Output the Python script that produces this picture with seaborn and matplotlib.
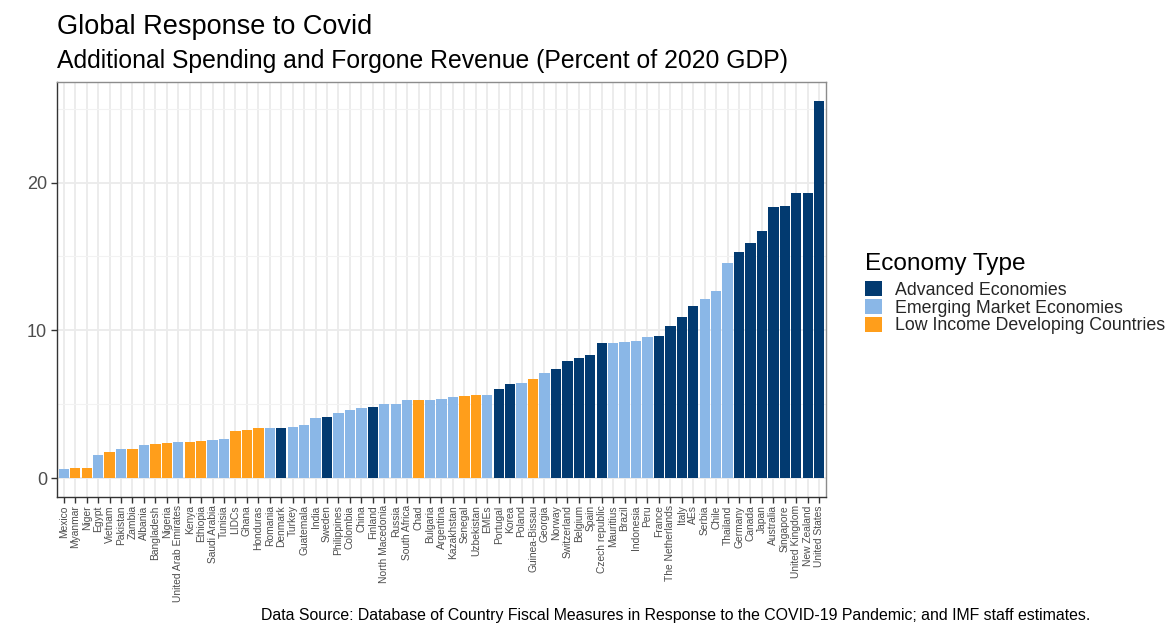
import matplotlib
matplotlib.use("Agg")
import matplotlib.pyplot as plt
import pandas as pd
import seaborn as sns
from matplotlib.patches import Patch
from matplotlib.ticker import MultipleLocator

# ==========================================================
# Data
# ==========================================================

countries = [
    "Mexico", "Myanmar", "Niger", "Egypt", "Vietnam", "Pakistan", "Zambia",
    "Albania", "Bangladesh", "Nigeria", "United Arab Emirates", "Kenya",
    "Ethiopia", "Saudi Arabia", "Tunisia", "LIDCs", "Ghana", "Honduras",
    "Romania", "Denmark", "Turkey", "Guatemala", "India", "Sweden",
    "Philippines", "Colombia", "China", "Finland", "North Macedonia", "Russia",
    "South Africa", "Chad", "Bulgaria", "Argentina", "Kazakhstan", "Senegal",
    "Uzbekistan", "EMEs", "Portugal", "Korea", "Poland", "Guinea-Bissau",
    "Georgia", "Norway", "Switzerland", "Belgium", "Spain", "Czech republic",
    "Mauritius", "Brazil", "Indonesia", "Peru", "France", "The Netherlands",
    "Italy", "AEs", "Serbia", "Chile", "Thailand", "Germany", "Canada",
    "Japan", "Australia", "Singapore", "United Kingdom", "New Zealand",
    "United States",
]

spending = [
    0.65, 0.72, 0.72, 1.54, 1.77, 1.99, 1.99,
    2.24, 2.28, 2.37, 2.42, 2.44,
    2.50, 2.57, 2.68, 3.17, 3.24, 3.38,
    3.38, 3.38, 3.47, 3.57, 4.07, 4.14,
    4.43, 4.63, 4.77, 4.79, 4.99, 4.99,
    5.28, 5.28, 5.30, 5.35, 5.48, 5.57,
    5.64, 5.66, 6.04, 6.38, 6.44, 6.69,
    7.12, 7.38, 7.90, 8.16, 8.36, 9.17,
    9.15, 9.20, 9.30, 9.57, 9.62, 10.29,
    10.90, 11.66, 12.13, 12.66, 14.56, 15.30, 15.90,
    16.70, 18.35, 18.40, 19.30, 19.30,
    25.50,
]

AE, EM, LI = "Advanced Economies", "Emerging Market Economies", "Low Income Developing Countries"
economy_type = [
    EM, LI, LI, EM, LI, EM, LI,
    EM, LI, LI, EM, LI,
    LI, EM, EM, LI, LI, LI,
    EM, AE, EM, EM, EM, AE,
    EM, EM, EM, AE, EM, EM,
    EM, LI, EM, EM, EM, LI,
    LI, EM, AE, AE, EM, LI,
    EM, AE, AE, AE, AE, AE,
    EM, EM, EM, EM, AE, AE,
    AE, AE, EM, EM, EM, AE, AE,
    AE, AE, AE, AE, AE,
    AE,
]

type_order = [AE, EM, LI]
palette = {AE: "#023A70", EM: "#8AB7E7", LI: "#FF9E1B"}

df = pd.DataFrame({"Country": countries, "Spending": spending, "Type": economy_type})

# ==========================================================
# Plot
# ==========================================================

sns.set_theme(style="white")
plt.rcParams["font.family"] = ["Liberation Sans", "DejaVu Sans"]

fig = plt.figure(figsize=(11.72, 6.23), dpi=100)
ax = fig.add_axes([0.0486, 0.2022, 0.6562, 0.6662])

sns.barplot(
    data=df, x="Country", y="Spending", hue="Type",
    order=countries, hue_order=type_order, palette=palette,
    dodge=False, width=0.9, saturation=1, linewidth=0,
    legend=False, ax=ax,
)

# ggplot-like grid
ax.set_axisbelow(True)
ax.yaxis.set_major_locator(MultipleLocator(10))
ax.yaxis.set_minor_locator(MultipleLocator(5))
ax.grid(which="major", axis="both", color="#EBEBEB", linewidth=1.3)
ax.grid(which="minor", axis="y", color="#F2F2F2", linewidth=0.8)

ax.set_xlim(-0.6, len(countries) - 0.4)
ax.set_ylim(-1.275, 26.8)

for side in ["top", "right"]:
    ax.spines[side].set_color("#8C8C8C")
    ax.spines[side].set_linewidth(1.0)
for side in ["left", "bottom"]:
    ax.spines[side].set_color("#333333")
    ax.spines[side].set_linewidth(1.0)

ax.tick_params(axis="x", which="major", length=4, width=1, color="#333333",
               labelsize=7.4, labelcolor="#4D4D4D", pad=2, bottom=True)
ax.tick_params(axis="y", which="major", length=4, width=1, color="#333333",
               labelsize=13, labelcolor="#4D4D4D", pad=3, left=True)
ax.tick_params(axis="y", which="minor", length=0)
ax.set_xticks(range(len(countries)))
ax.set_xticklabels(countries, rotation=90)
ax.set_xlabel("")
ax.set_ylabel("")

# titles
fig.text(0.0486, 0.945, "Global Response to Covid", fontsize=19.5, color="black", va="baseline")
fig.text(0.0486, 0.891, "Additional Spending and Forgone Revenue (Percent of 2020 GDP)",
         fontsize=17.8, color="black", va="baseline")

# caption
fig.text(0.930, 0.0, "Data Source: Database of Country Fiscal Measures in Response to the "
         "COVID-19 Pandemic; and IMF staff estimates.",
         fontsize=11.4, color="black", ha="right", va="bottom")

# legend
fig.text(0.738, 0.577, "Economy Type", fontsize=17.6, color="black", va="center")
handles = [Patch(facecolor=palette[t], edgecolor="none", label=t) for t in type_order]
fig.legend(
    handles=handles, loc="upper left",
    bbox_to_anchor=(0.738, 0.549), frameon=False,
    fontsize=12.8, handlelength=0.95, handleheight=0.95,
    handletextpad=0.72, labelspacing=0.0, borderaxespad=0, borderpad=0,
)

fig.savefig("out.png", dpi=100)
